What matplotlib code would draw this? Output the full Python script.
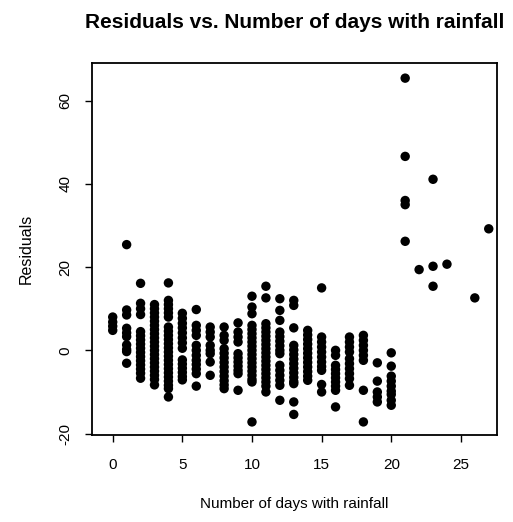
import numpy as np
import matplotlib
matplotlib.use("Agg")
import matplotlib.pyplot as plt

plt.rcParams['font.family'] = ['Liberation Sans', 'DejaVu Sans']

# dies de pluja (eix x) i residus llegits per columna
dies = [0, 1, 2, 3, 4, 5, 6, 7, 8, 9, 10, 11, 12, 13, 14, 15, 16, 17, 18, 19, 20,
        21, 22, 23, 24, 26, 27]

residus = [
    [8.0, 6.8, 5.8, 4.8],
    [25.4, 9.7, 8.5, 5.3, 4.2, 3.3, 1.3, 0.2, -0.3, -3.1],
    [16.1, 11.3, 10.0, 8.6, 4.5, 3.5, 2.5, 1.5, 0.5, -0.5, -1.5, -2.5, -3.5, -4.5, -5.5, -6.7],
    [11.0, 10.0, 9.0, 8.0, 7.0, 6.0, 5.0, 4.0, 3.0, 2.0, 1.0, 0.0, -1.0, -2.0, -3.0,
     -4.0, -5.0, -6.0, -7.0, -8.3],
    [16.2, 12.0, 11.0, 10.0, 9.0, 8.0, 5.6, 4.6, 3.6, 2.6, 1.6, 0.6, -0.4, -1.4, -2.4,
     -3.4, -4.4, -5.4, -6.4, -7.4, -8.4, -9.2, -11.2],
    [8.9, 7.7, 6.5, 5.4, 4.2, 3.0, 1.8, 0.5, -2.3, -3.3, -4.3, -5.3, -6.3, -7.1],
    [9.8, 6.0, 4.8, 3.6, 1.2, 0.0, -1.2, -2.4, -3.4, -4.5, -5.6, -8.6],
    [5.6, 4.4, 3.2, 1.2, 0.0, -0.8, -2.8, -6.0],
    [5.6, 3.6, 2.4, 0.4, -0.7, -1.8, -2.9, -4.0, -5.1, -6.2, -7.3, -8.3, -9.2],
    [6.6, 4.4, 3.2, 2.0, -0.8, -1.8, -2.8, -3.8, -4.8, -5.6, -9.6],
    [13.0, 10.4, 8.8, 6.0, 5.0, 4.0, 3.0, 2.0, 1.0, 0.0, -1.0, -2.0, -3.0, -4.0, -5.0,
     -6.0, -7.0, -7.6, -17.2],
    [15.4, 12.6, 6.4, 5.4, 4.4, 3.4, 2.4, 1.4, 0.4, -0.6, -1.6, -2.6, -3.6, -4.6, -5.6,
     -6.6, -7.6, -8.6, -10.0],
    [12.4, 9.6, 7.2, 4.4, 3.3, 2.2, 1.1, 0.0, -0.8, -3.6, -4.8, -6.0, -7.2, -8.4, -12.0],
    [12.0, 10.8, 5.4, 1.2, 0.1, -1.0, -2.1, -3.2, -4.3, -5.4, -6.5, -7.5, -8.0, -12.4, -15.4],
    [4.8, 3.7, 2.6, 1.5, 0.4, -0.7, -1.8, -2.9, -4.0, -5.1, -6.2, -7.2],
    [15.0, 3.2, 2.0, 0.8, -0.4, -1.6, -2.8, -3.9, -4.8, -8.2, -10.0],
    [0.0, -1.2, -3.6, -4.6, -5.6, -6.6, -7.6, -8.6, -9.6, -13.6],
    [3.2, 2.0, 0.8, -0.4, -2.0, -3.2, -4.4, -5.6, -6.8, -8.4],
    [3.6, 2.4, 1.2, 0.0, -1.2, -2.4, -9.6, -17.2],
    [-3.0, -7.4, -10.0, -11.2, -12.4],
    [-0.6, -3.8, -6.2, -7.4, -8.6, -9.8, -10.6, -12.0, -13.2],
    [65.4, 46.6, 36.0, 35.0, 26.2],
    [19.4],
    [41.1, 20.2, 15.4],
    [20.7],
    [12.6],
    [29.2],
]

x = np.concatenate([[d] * len(r) for d, r in zip(dies, residus)])
y = np.concatenate(residus)

fig = plt.figure(figsize=(5.13, 5.22), dpi=100)
ax = fig.add_axes([0.179, 0.167, 0.79, 0.712])

ax.scatter(x, y, s=46, color='black', edgecolors='none')

ax.set_xlim(-1.5, 27.6)
ax.set_ylim(-20.3, 69)
ax.set_xticks([0, 5, 10, 15, 20, 25])
ax.set_yticks([-20, 0, 20, 40, 60])
ax.set_yticklabels(['-20', '0', '20', '40', '60'], rotation=90, va='center')
ax.tick_params(direction='out', length=5, width=1, labelsize=11)
ax.tick_params(axis='x', pad=12)
ax.tick_params(axis='y', pad=9)

for s in ax.spines.values():
    s.set_linewidth(1.3)

ax.set_title("Residuals vs. Number of days with rainfall", fontsize=15,
             fontweight='bold', pad=25)
ax.set_xlabel("Number of days with rainfall", fontsize=11, labelpad=18)
ax.set_ylabel("Residuals", fontsize=11.5, labelpad=18)

fig.savefig("out.png", dpi=100)
